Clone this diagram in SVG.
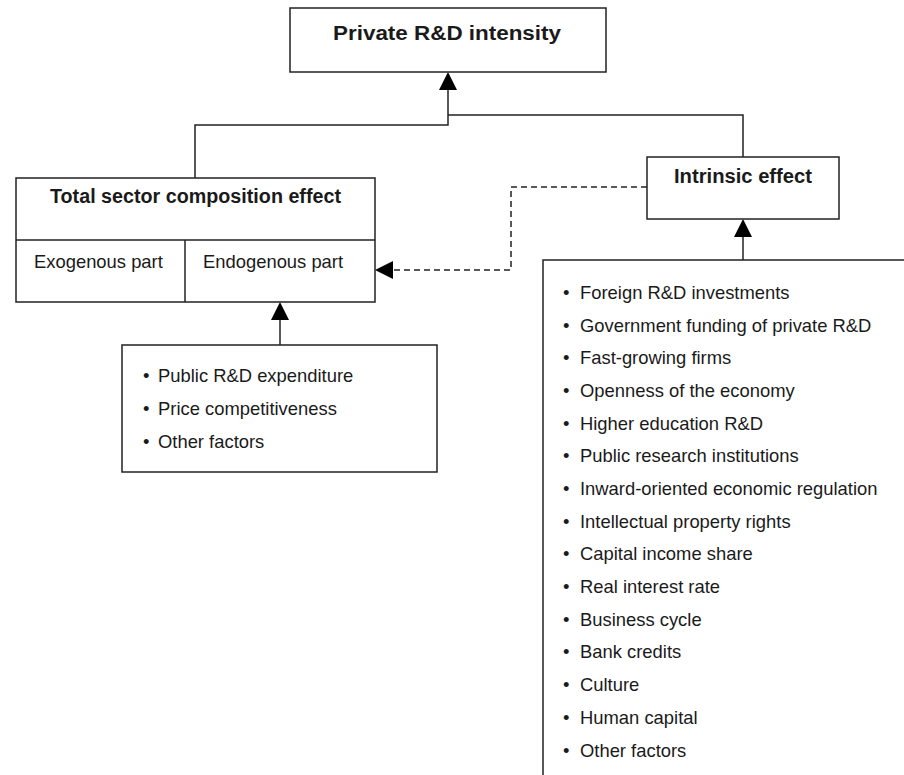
<svg xmlns="http://www.w3.org/2000/svg" width="904" height="775" viewBox="0 0 904 775">
<style>
.box{fill:#fff;stroke:#222;stroke-width:1.5}
.ln{fill:none;stroke:#222;stroke-width:1.5}
.dash{fill:none;stroke:#222;stroke-width:1.5;stroke-dasharray:6 4}
.ah{fill:#000}
.t{font-family:"Liberation Sans",Arial,sans-serif;font-size:18.4px;fill:#1a1a1a}
.b{font-family:"Liberation Sans",Arial,sans-serif;font-size:20px;font-weight:bold;fill:#1a1a1a}
</style>
<rect width="904" height="775" fill="#fff"/>
<g id="connectors">
<polyline class="ln" points="195,178 195,125 448,125 448,88"/>
<polyline class="ln" points="448,115 743,115 743,157"/>
<polygon class="ah" points="448,72 439,90 457,90"/>
<polyline class="dash" points="647,187 511,187 511,270 392,270"/>
<polygon class="ah" points="375,270 393,261 393,279"/>
<line class="ln" x1="743" y1="236" x2="743" y2="260"/>
<polygon class="ah" points="743,219 734,237 752,237"/>
<line class="ln" x1="280" y1="320" x2="280" y2="345"/>
<polygon class="ah" points="280,302 271,320 289,320"/>
</g>
<g id="private-rd">
<rect class="box" x="290" y="8" width="316" height="64"/>
<text class="b" x="333" y="40" textLength="228" lengthAdjust="spacingAndGlyphs">Private R&amp;D intensity</text>
</g>
<g id="total-sector">
<rect class="box" x="16" y="178" width="359" height="124"/>
<line class="ln" x1="16" y1="240" x2="375" y2="240"/>
<line class="ln" x1="185" y1="240" x2="185" y2="302"/>
<text class="b" x="50" y="203" textLength="291" lengthAdjust="spacingAndGlyphs">Total sector composition effect</text>
<text class="t" x="34" y="268">Exogenous part</text>
<text class="t" x="203" y="268">Endogenous part</text>
</g>
<g id="intrinsic">
<rect class="box" x="647" y="157" width="192" height="62"/>
<text class="b" x="674" y="183" textLength="138" lengthAdjust="spacingAndGlyphs">Intrinsic effect</text>
</g>
<g id="endogenous-factors">
<rect class="box" x="122" y="345" width="315" height="127"/>
<text class="t" x="143" y="382">•</text><text class="t" x="158" y="382">Public R&amp;D expenditure</text>
<text class="t" x="143" y="415">•</text><text class="t" x="158" y="415">Price competitiveness</text>
<text class="t" x="143" y="448">•</text><text class="t" x="158" y="448">Other factors</text>
</g>
<g id="intrinsic-factors">
<rect class="box" x="543" y="260" width="380" height="530"/>
<g class="t">
<text x="563" y="299">•</text><text x="580" y="299">Foreign R&amp;D investments</text>
<text x="563" y="332">•</text><text x="580" y="332">Government funding of private R&amp;D</text>
<text x="563" y="364">•</text><text x="580" y="364">Fast-growing firms</text>
<text x="563" y="397">•</text><text x="580" y="397">Openness of the economy</text>
<text x="563" y="430">•</text><text x="580" y="430">Higher education R&amp;D</text>
<text x="563" y="462">•</text><text x="580" y="462">Public research institutions</text>
<text x="563" y="495">•</text><text x="580" y="495">Inward-oriented economic regulation</text>
<text x="563" y="528">•</text><text x="580" y="528">Intellectual property rights</text>
<text x="563" y="560">•</text><text x="580" y="560">Capital income share</text>
<text x="563" y="593">•</text><text x="580" y="593">Real interest rate</text>
<text x="563" y="626">•</text><text x="580" y="626">Business cycle</text>
<text x="563" y="658">•</text><text x="580" y="658">Bank credits</text>
<text x="563" y="691">•</text><text x="580" y="691">Culture</text>
<text x="563" y="724">•</text><text x="580" y="724">Human capital</text>
<text x="563" y="757">•</text><text x="580" y="757">Other factors</text>
</g>
</g>
</svg>
